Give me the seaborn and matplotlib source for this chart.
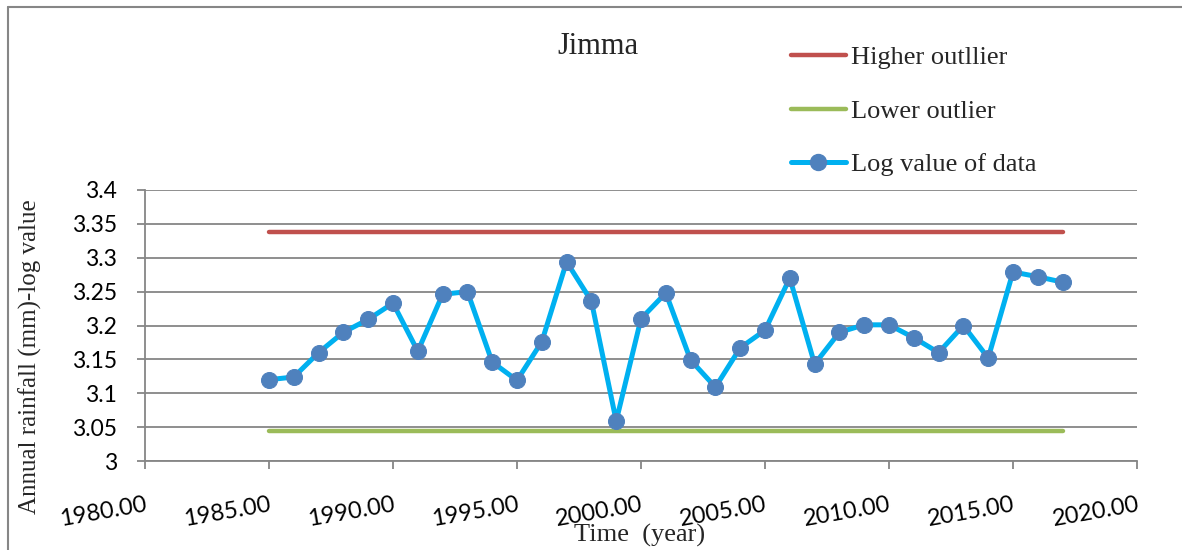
import matplotlib
matplotlib.use("Agg")
import matplotlib.pyplot as plt
import seaborn as sns
import pandas as pd
from matplotlib.lines import Line2D

years = [1985, 1986, 1987, 1988, 1989, 1990, 1991, 1992, 1993, 1994, 1995,
         1996, 1997, 1998, 1999, 2000, 2001, 2002, 2003, 2004, 2005, 2006,
         2007, 2008, 2009, 2010, 2011, 2012, 2013, 2014, 2015, 2016, 2017]
log_values = [3.120, 3.124, 3.160, 3.190, 3.209, 3.233, 3.162, 3.246, 3.250,
              3.146, 3.119, 3.176, 3.294, 3.236, 3.059, 3.210, 3.248, 3.149,
              3.109, 3.167, 3.193, 3.270, 3.143, 3.190, 3.201, 3.201, 3.182,
              3.160, 3.200, 3.152, 3.279, 3.272, 3.264]
outlier_years = [1985, 2017]
higher_outlier = [3.338, 3.338]
lower_outlier = [3.045, 3.045]

x_ticks = [1980, 1985, 1990, 1995, 2000, 2005, 2010, 2015, 2020]
y_ticks = [3.0, 3.05, 3.1, 3.15, 3.2, 3.25, 3.3, 3.35, 3.4]
y_tick_labels = ["3", "3.05", "3.1", "3.15", "3.2", "3.25", "3.3", "3.35", "3.4"]

sns.set_theme(style="white")
plt.rcParams['font.family'] = ['Liberation Serif', 'DejaVu Serif']

W, H = 1182, 550
fig = plt.figure(figsize=(W / 100, H / 100), dpi=100)
ax = fig.add_axes([145 / W, 1 - 461 / H, (1137 - 145) / W, (461 - 190) / H])

grid_c = "#868686"
red = "#C0504D"
green = "#9BBB59"
blue_line = "#00B0F0"
blue_marker = "#4F81BD"

df_hi = pd.DataFrame({"year": outlier_years, "v": higher_outlier})
df_lo = pd.DataFrame({"year": outlier_years, "v": lower_outlier})
df = pd.DataFrame({"year": years, "v": log_values})

sns.lineplot(data=df_hi, x="year", y="v", ax=ax, color=red, lw=3.2,
             solid_capstyle="round", zorder=3)
sns.lineplot(data=df_lo, x="year", y="v", ax=ax, color=green, lw=3.2,
             solid_capstyle="round", zorder=3)
sns.lineplot(data=df, x="year", y="v", ax=ax, color=blue_line, lw=3.6,
             marker="o", markersize=11.5, markerfacecolor=blue_marker,
             markeredgecolor=blue_marker, zorder=4)

ax.set_xlim(1980, 2020)
ax.set_ylim(3.0, 3.4)
ax.set_xticks(x_ticks)
ax.set_xticklabels([f"{t:.2f}" for t in x_ticks], rotation=10, ha="right",
                   va="top", rotation_mode="anchor",
                   fontsize=17, family="Lato", color="black")
ax.set_yticks(y_ticks)
ax.set_yticklabels(y_tick_labels, fontsize=16.5, family="Lato", color="black")
ax.set_xlabel("")
ax.set_ylabel("")

ax.grid(axis="y", color=grid_c, lw=1.3)
ax.grid(axis="x", visible=False)
for s in ["top", "right"]:
    ax.spines[s].set_visible(False)
for s in ["left", "bottom"]:
    ax.spines[s].set_color(grid_c)
    ax.spines[s].set_linewidth(1.3)
ax.tick_params(axis="x", direction="out", length=6, width=1.3, color=grid_c,
               bottom=True, pad=18)
ax.tick_params(axis="y", direction="out", length=6, width=1.3, color=grid_c,
               left=True, pad=14)

# title and axis labels
fig.text(598 / W, 1 - 47 / H, "Jimma", ha="center", va="center", fontsize=22)
fig.text(640 / W, 1 - 535 / H, "Time  (year)", ha="center", va="center",
         fontsize=19)
fig.text(30 / W, 1 - 357 / H, "Annual rainfall (mm)-log value", ha="center",
         va="center", rotation=90, fontsize=18)

# legend
handles = [
    Line2D([], [], color=red, lw=3.2, solid_capstyle="round"),
    Line2D([], [], color=green, lw=3.2, solid_capstyle="round"),
    Line2D([], [], color=blue_line, lw=3.6, marker="o", markersize=11.5,
           markerfacecolor=blue_marker, markeredgecolor=blue_marker),
]
labels = ["Higher outllier", "Lower outlier", "Log value of data"]
fig.legend(handles, labels, loc="upper left",
           bbox_to_anchor=(791 / W, 1 - 46 / H), frameon=False, fontsize=19,
           handlelength=2.08, handletextpad=0.2, labelspacing=1.13,
           borderpad=0, borderaxespad=0)

# figure frame (top and left edges)
fig.add_artist(Line2D([8 / W, 1], [1 - 6.5 / H, 1 - 6.5 / H], color=grid_c,
                      lw=1.5, transform=fig.transFigure))
fig.add_artist(Line2D([8 / W, 8 / W], [0, 1 - 6.5 / H], color=grid_c,
                      lw=1.5, transform=fig.transFigure))

fig.savefig("out.png", dpi=100)
